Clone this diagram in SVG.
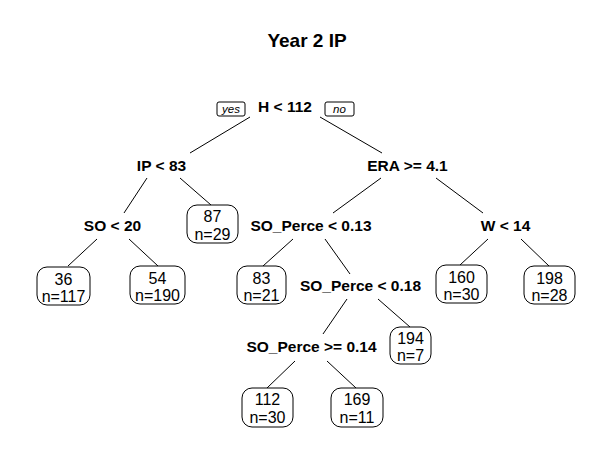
<svg xmlns="http://www.w3.org/2000/svg" width="614" height="461" viewBox="0 0 614 461">
<style>
.title{font-family:"Liberation Sans",Arial,sans-serif;font-weight:bold;font-size:19px;text-anchor:middle;fill:#000}
.split{font-family:"Liberation Sans",Arial,sans-serif;font-weight:bold;font-size:15.5px;text-anchor:middle;fill:#000}
.leaf text{font-family:"Liberation Sans",Arial,sans-serif;font-size:16px;text-anchor:middle;fill:#000}
.box{fill:#fff;stroke:#000;stroke-width:1}
.tag{fill:#fff;stroke:#000;stroke-width:1}
.tagt{font-family:"Liberation Sans",Arial,sans-serif;font-style:italic;font-size:11.5px;text-anchor:middle;fill:#000}
.edges line{stroke:#000;stroke-width:1}
</style>
<rect width="614" height="461" fill="#fff"/>
<text class="title" x="307" y="47">Year 2 IP</text>
<g id="connectors" class="edges">
<line x1="250" y1="117" x2="190" y2="153"/>
<line x1="320" y1="117" x2="382" y2="153"/>
<line x1="147" y1="178" x2="124" y2="213"/>
<line x1="180" y1="178" x2="211" y2="205"/>
<line x1="97" y1="239" x2="68" y2="266"/>
<line x1="129" y1="239" x2="158" y2="266"/>
<line x1="381" y1="178" x2="333" y2="213"/>
<line x1="436" y1="178" x2="483" y2="213"/>
<line x1="293" y1="239" x2="263" y2="266"/>
<line x1="325" y1="239" x2="350" y2="274"/>
<line x1="488" y1="239" x2="460" y2="265"/>
<line x1="521" y1="239" x2="549" y2="266"/>
<line x1="347" y1="299" x2="323" y2="334"/>
<line x1="378" y1="299" x2="410" y2="327"/>
<line x1="295" y1="361" x2="267" y2="388"/>
<line x1="327" y1="361" x2="356" y2="388"/>
</g>
<g id="tag-yes"><rect class="tag" x="217" y="102" width="28" height="14" rx="2"/><text class="tagt" x="231" y="113">yes</text></g>
<g id="tag-no"><rect class="tag" x="325" y="102" width="29" height="14" rx="2"/><text class="tagt" x="339.5" y="113">no</text></g>
<g id="n1"><text class="split" x="285" y="112">H &lt; 112</text></g>
<g id="n2"><text class="split" x="161.5" y="171">IP &lt; 83</text></g>
<g id="n3"><text class="split" x="407.5" y="171">ERA &gt;= 4.1</text></g>
<g id="n4"><text class="split" x="112.5" y="231">SO &lt; 20</text></g>
<g id="n6"><text class="split" x="311" y="231">SO_Perce &lt; 0.13</text></g>
<g id="n7"><text class="split" x="505.5" y="231">W &lt; 14</text></g>
<g id="n13"><text class="split" x="360.5" y="291">SO_Perce &lt; 0.18</text></g>
<g id="n26"><text class="split" x="311.5" y="352">SO_Perce &gt;= 0.14</text></g>
<g id="leaf36" class="leaf"><rect class="box" x="37" y="267" width="53" height="38" rx="10"/><text x="63.5" y="285">36</text><text x="63.5" y="302">n=117</text></g>
<g id="leaf54" class="leaf"><rect class="box" x="130" y="266" width="55" height="38" rx="10"/><text x="157.5" y="284">54</text><text x="157.5" y="301">n=190</text></g>
<g id="leaf87" class="leaf"><rect class="box" x="187" y="205" width="51" height="38" rx="10"/><text x="212.5" y="222">87</text><text x="212.5" y="240">n=29</text></g>
<g id="leaf83" class="leaf"><rect class="box" x="237" y="266" width="49" height="38" rx="10"/><text x="261.5" y="284">83</text><text x="261.5" y="301">n=21</text></g>
<g id="leaf160" class="leaf"><rect class="box" x="436" y="265" width="51" height="38" rx="10"/><text x="461.5" y="283">160</text><text x="461.5" y="300">n=30</text></g>
<g id="leaf198" class="leaf"><rect class="box" x="524" y="266" width="51" height="38" rx="10"/><text x="549.5" y="284">198</text><text x="549.5" y="301">n=28</text></g>
<g id="leaf194" class="leaf"><rect class="box" x="390" y="327" width="41" height="37" rx="10"/><text x="410.5" y="344">194</text><text x="410.5" y="361">n=7</text></g>
<g id="leaf112" class="leaf"><rect class="box" x="242" y="388" width="51" height="39" rx="10"/><text x="267.5" y="405">112</text><text x="267.5" y="423">n=30</text></g>
<g id="leaf169" class="leaf"><rect class="box" x="331" y="388" width="52" height="39" rx="10"/><text x="357" y="405">169</text><text x="357" y="423">n=11</text></g>
</svg>
